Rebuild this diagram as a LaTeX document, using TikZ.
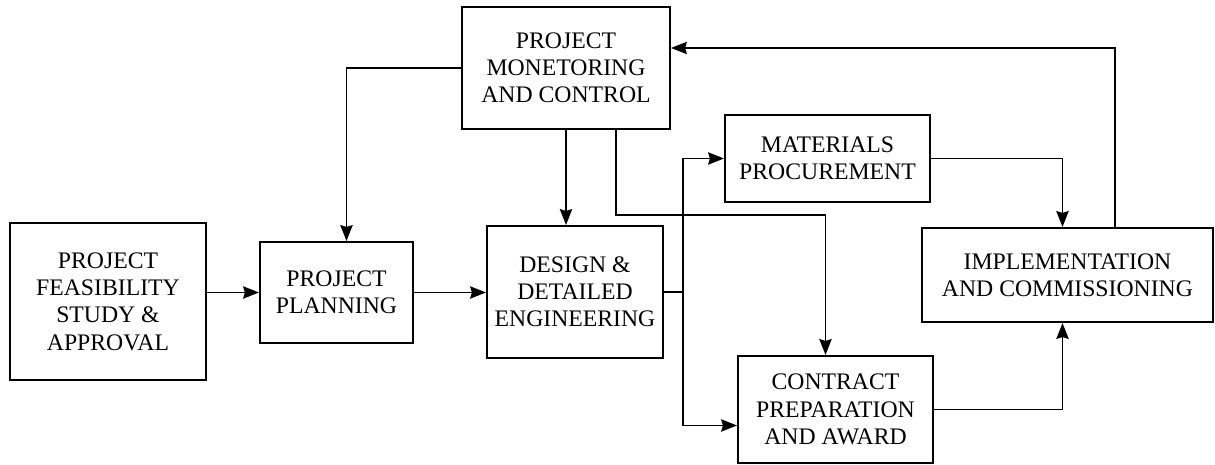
\documentclass[tikz,border=0pt]{standalone}
\usepackage{fontspec}
\setmainfont{Liberation Serif}
\usetikzlibrary{arrows.meta}
\tikzstyle{block} = [rectangle, draw=black, line width=1.2pt, inner sep=0pt, align=center, font=\fontsize{13.5}{15.5}\selectfont]
\tikzstyle{arrow} = [line width=1.1pt,->,>={Stealth[length=9pt,width=7pt,inset=1pt]}]
\tikzstyle{line} = [line width=1.1pt]

\begin{document}
\begin{tikzpicture}[x=0.02cm, y=-0.02cm]
  \useasboundingbox (0,0) rectangle (1215,465);
  \node (feas) [block, minimum width=3.92cm, minimum height=3.14cm] at (108,301.5) {PROJECT\\FEASIBILITY\\STUDY \&\\APPROVAL};
  \node (plan) [block, minimum width=3.06cm, minimum height=2.02cm] at (336.5,292.5) {PROJECT\\PLANNING};
  \node (design) [block, minimum width=3.52cm, minimum height=2.64cm] at (575,292) {DESIGN \&\\DETAILED\\ENGINEERING};
  \node (monitor) [block, minimum width=4.16cm, minimum height=2.44cm] at (566,68) {PROJECT\\MONETORING\\AND CONTROL};
  \node (materials) [block, minimum width=4.10cm, minimum height=1.74cm] at (827.5,158.5) {MATERIALS\\PROCUREMENT};
  \node (contract) [block, minimum width=3.90cm, minimum height=2.14cm] at (835.5,409.5) {CONTRACT\\PREPARATION\\AND AWARD};
  \node (impl) [block, minimum width=5.82cm, minimum height=1.88cm] at (1067.5,275) {IMPLEMENTATION\\AND COMMISSIONING};

  \coordinate (tap) at (616,215);
  \coordinate (split) at (683,292);
  \coordinate (fb) at (1115,48);

  \draw [arrow] (feas.east |- plan.west) -- (plan.west);
  \draw [arrow] (monitor.west) -| ([xshift=0.2cm]plan.north);
  \draw [arrow] (monitor.south) -- (monitor.south |- design.north);
  \draw [arrow] (plan.east) -- (plan.east -| design.west);
  \draw [line] (design.east |- split) -- (split);
  \draw [arrow] (split) |- (materials.west);
  \draw [arrow] (split) |- ([yshift=-0.32cm]contract.west);
  \draw [arrow] (monitor.south -| tap) -- (tap) -| ([xshift=-0.2cm]contract.north);
  \draw [arrow] (materials.east) -| ([xshift=-0.1cm]impl.north);
  \draw [arrow] (contract.east) -| ([xshift=-0.1cm]impl.south);
  \draw [arrow] (impl.north -| fb) -- (fb) -- (fb -| monitor.east);
\end{tikzpicture}
\end{document}
